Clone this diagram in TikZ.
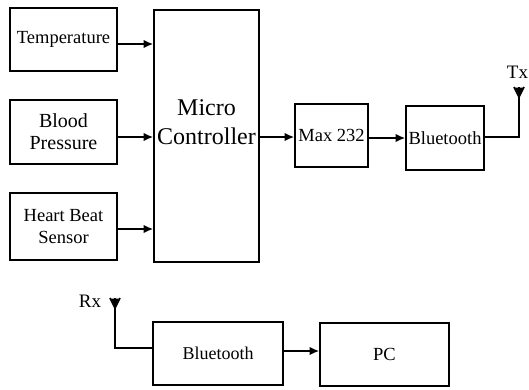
\documentclass[tikz,border=0pt]{standalone}
\usepackage{fontspec}
\setmainfont{Liberation Serif}
\newfontfamily\blockfont{Liberation Serif}
\usetikzlibrary{arrows.meta}
\begin{document}
\begin{tikzpicture}[x=1pt,y=-1pt,
  blk/.style={draw, line width=1.7pt, inner sep=0pt, align=center,
              font=\blockfont\fontsize{18.5}{22}\selectfont},
  conn/.style={line width=1.7pt, -{Latex[length=9.5pt,width=8.5pt]}},
  wire/.style={line width=1.7pt},
  lbl/.style={inner sep=0pt, font=\blockfont\fontsize{19}{22}\selectfont}]
\useasboundingbox (0,0) rectangle (529,389);
\fill[white] (0,0) rectangle (529,389);

% sensor blocks
\node[blk, minimum width=107pt, minimum height=63pt] (temp)  at (63.5,39.5)  {Temperature};
\node[blk, minimum width=107pt, minimum height=64pt, font=\blockfont\fontsize{20}{22}\selectfont]
  (bp) at (63.5,132) {Blood\\Pressure};
\node[blk, minimum width=107pt, minimum height=67pt] (heart) at (63.5,226.5) {Heart Beat\\Sensor};

% microcontroller
\node[blk, minimum width=105pt, minimum height=252pt] (mc) at (206.5,136) {};
\node[inner sep=0pt, align=center, font=\blockfont\fontsize{24}{29}\selectfont]
  (mctext) at ([yshift=13.5pt]mc.center) {Micro\\Controller};

% transmit chain
\node[blk, minimum width=73pt, minimum height=63pt] (max) at (331.5,135.5) {Max 232};
\node[blk, minimum width=78pt, minimum height=64pt] (bt1) at (445,138) {Bluetooth};

% receive chain
\node[blk, minimum width=130pt, minimum height=63pt, font=\blockfont\fontsize{18}{22}\selectfont]
  (bt2) at (218,353.5) {Bluetooth};
\node[blk, minimum width=129pt, minimum height=63pt] (pc)  at (384.5,354.5) {PC};

% sensor inputs
\draw[conn] ([yshift=-4.5pt]temp.east)  -- ([yshift=-4.5pt]temp.east -| mc.west);
\draw[conn] ([yshift=-5pt]bp.east)      -- ([yshift=-5pt]bp.east -| mc.west);
\draw[conn] ([yshift=-2.5pt]heart.east) -- ([yshift=-2.5pt]heart.east -| mc.west);

% data path
\draw[conn] ([yshift=-1pt]mc.east) -- ([yshift=-1pt]mc.east -| max.west);
\draw[conn] ([yshift=-2.5pt]max.east) -- ([yshift=-2.5pt]max.east -| bt1.west);
\draw[conn] ([yshift=2.5pt]bt2.east) -- ([yshift=2.5pt]bt2.east -| pc.west);

% Tx antenna
\coordinate (txbase) at (519,137);
\coordinate (txtop)  at (519,87);
\draw[wire] ([yshift=1pt]bt1.east) -- (txbase) -- (txtop);
\draw[wire] (514,87) -- (519,97) -- (524,87);
\fill (515,87.5) -- (519,96) -- (523,87.5) -- cycle;
\node[lbl] (tx) at (517.5,72.5) {Tx};

% Rx antenna
\coordinate (rxbase) at (115,348);
\coordinate (rxtop)  at (115,298);
\draw[wire] ([yshift=5.5pt]bt2.west) -- (rxbase) -- (rxtop);
\draw[wire] (110,298) -- (115,308) -- (120,298);
\fill (111,298.5) -- (115,307) -- (119,298.5) -- cycle;
\node[lbl] (rx) at (90,301) {Rx};
\end{tikzpicture}
\end{document}
